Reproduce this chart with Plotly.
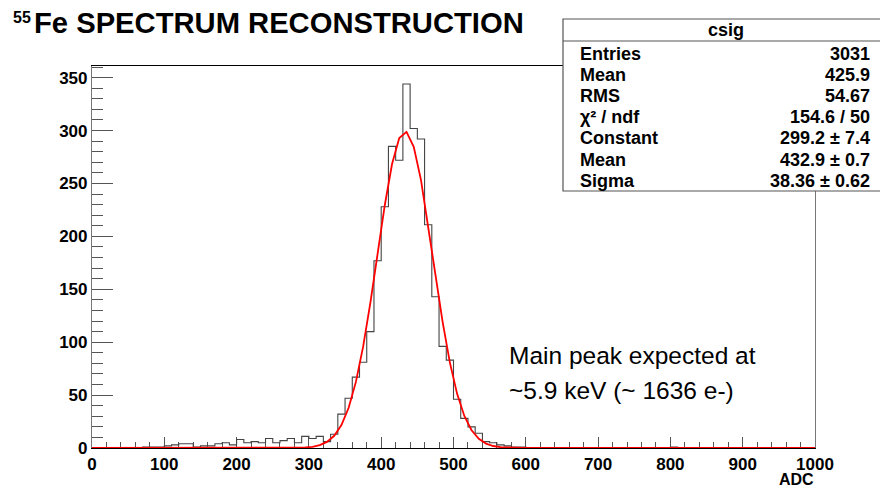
import numpy as np
import plotly.graph_objects as go

# ---- data -------------------------------------------------------------
bin_width = 10
bin_edges = list(range(0, 1001, bin_width))          # 0..1000 ADC
counts = [
    0, 0, 0, 0, 0, 0, 0, 1, 1, 1,          # 0-99
    2, 3, 4, 4, 1, 2, 2, 4, 5, 3,          # 100-199
    8, 5, 6, 5, 9, 5, 7, 9, 5, 11,         # 200-299
    9, 11, 6, 13, 32, 47, 67, 81, 110, 177,  # 300-399
    228, 285, 272, 344, 302, 292, 211, 143, 96, 83,  # 400-499
    46, 28, 20, 14, 6, 5, 3, 2, 1, 1,      # 500-599
    0, 0, 0, 0, 0, 0, 0, 0, 0, 0,          # 600-699
    0, 0, 0, 0, 0, 0, 0, 0, 0, 0,          # 700-799
    1, 0, 0, 0, 0, 0, 0, 0, 0, 0,          # 800-899
    0, 0, 0, 0, 0, 0, 0, 0, 0, 0,          # 900-999
]

# Gaussian fit parameters (from the stats box)
fit_constant = 299.2
fit_mean = 432.9
fit_sigma = 38.36

stat_labels = ["Entries", "Mean", "RMS", "χ² / ndf", "Constant", "Mean", "Sigma"]
stat_values = ["3031", "425.9", "54.67", "154.6 / 50", "299.2 ± 7.4", "432.9 ± 0.7", "38.36 ± 0.62"]
stats_title = "csig"

x_ticks = list(range(0, 1001, 100))
y_ticks = list(range(0, 351, 50))

title_sup = "55"
title_main = "Fe SPECTRUM RECONSTRUCTION"
note_lines = ["Main peak expected at", "~5.9 keV (~ 1636 e-)"]
x_title = "ADC"

# ---- geometry helpers (pixel -> paper) --------------------------------
W, H = 880, 489
L, R, T, B = 92, 815, 66, 448
PW, PH = R - L, B - T


def px(x):
    return (x - L) / PW


def py(y):
    return (B - y) / PH


fig = go.Figure()

# histogram outline (ROOT style step contour)
fig.add_trace(go.Scatter(
    x=bin_edges,
    y=counts + [counts[-1]],
    mode="lines",
    line=dict(color="#444444", width=1.1, shape="hv"),
    hoverinfo="skip",
    showlegend=False,
))

# fit function, sampled like ROOT's TF1 (100 points)
fx = np.concatenate([[0.0], np.arange(5, 1000, 10), [1000.0]])
fy = fit_constant * np.exp(-0.5 * ((fx - fit_mean) / fit_sigma) ** 2)
fig.add_trace(go.Scatter(
    x=fx, y=fy, mode="lines",
    line=dict(color="#ff0000", width=1.8),
    hoverinfo="skip", showlegend=False,
))

axis_font = dict(family="Liberation Sans", size=17, color="black", weight="bold")

fig.update_xaxes(
    range=[0, 1000],
    tickvals=x_ticks,
    ticktext=[str(v) for v in x_ticks],
    ticks="inside", ticklen=11, tickwidth=1, tickcolor="#555",
    minor=dict(dtick=20, tick0=0, ticks="inside", ticklen=6, tickcolor="#555", showgrid=False),
    showline=True, linecolor="black", linewidth=1.2, mirror=True,
    showgrid=False, zeroline=False,
    tickfont=axis_font,
    layer="below traces",
)
fig.update_yaxes(
    range=[0, 361],
    tickvals=y_ticks,
    ticktext=[str(v) for v in y_ticks],
    ticks="inside", ticklen=21, tickwidth=1, tickcolor="#555",
    minor=dict(dtick=10, tick0=0, ticks="inside", ticklen=11, tickcolor="#555", showgrid=False),
    showline=True, linecolor="#777", linewidth=1.2, mirror=True,
    showgrid=False, zeroline=False,
    tickfont=axis_font,
    layer="below traces",
)

annotations = []
shapes = []

# Title (superscript + main text)
annotations.append(dict(
    text=title_sup, xref="paper", yref="paper",
    x=px(11), y=py(17), xanchor="left", yanchor="middle", showarrow=False,
    font=dict(family="Liberation Sans", size=16, color="black", weight="bold"),
))
annotations.append(dict(
    text=title_main, xref="paper", yref="paper",
    x=px(32), y=py(23), xanchor="left", yanchor="middle", showarrow=False,
    font=dict(family="Liberation Sans", size=29.2, color="black", weight="bold"),
))

# x-axis title
annotations.append(dict(
    text=x_title, xref="paper", yref="paper",
    x=px(816), y=py(479), xanchor="right", yanchor="middle", showarrow=False,
    font=dict(family="Liberation Sans", size=16, color="black", weight="bold"),
))

# note text
for i, line in enumerate(note_lines):
    annotations.append(dict(
        text=line, xref="paper", yref="paper",
        x=px(507), y=py(355 + 35 * i), xanchor="left", yanchor="middle", showarrow=False,
        font=dict(family="Liberation Sans", size=24.5, color="black"),
    ))

# stats box
box_l, box_r, box_t, box_b = 563, 882, 19, 191
shapes.append(dict(type="rect", xref="paper", yref="paper",
                   x0=px(box_l), x1=px(box_r), y0=py(box_b), y1=py(box_t),
                   line=dict(color="#555", width=1.2), fillcolor="white", layer="above"))
shapes.append(dict(type="line", xref="paper", yref="paper",
                   x0=px(box_l), x1=px(box_r), y0=py(41), y1=py(41),
                   line=dict(color="#555", width=1.2), layer="above"))
stat_font = dict(family="Liberation Sans", size=18, color="black", weight="bold")
annotations.append(dict(
    text=stats_title, xref="paper", yref="paper",
    x=px(726), y=py(30), xanchor="center", yanchor="middle", showarrow=False,
    font=stat_font,
))
for i, (lab, val) in enumerate(zip(stat_labels, stat_values)):
    yy = py(53.5 + 21.2 * i)
    annotations.append(dict(text=lab, xref="paper", yref="paper", x=px(578), y=yy,
                            xanchor="left", yanchor="middle", showarrow=False, font=stat_font))
    annotations.append(dict(text=val, xref="paper", yref="paper", x=px(872), y=yy,
                            xanchor="right", yanchor="middle", showarrow=False, font=stat_font))

fig.update_layout(
    width=W, height=H,
    margin=dict(l=L, r=W - R, t=T, b=H - B, pad=0),
    paper_bgcolor="white", plot_bgcolor="white",
    annotations=annotations, shapes=shapes,
    showlegend=False,
)

fig.write_html("out.html")
